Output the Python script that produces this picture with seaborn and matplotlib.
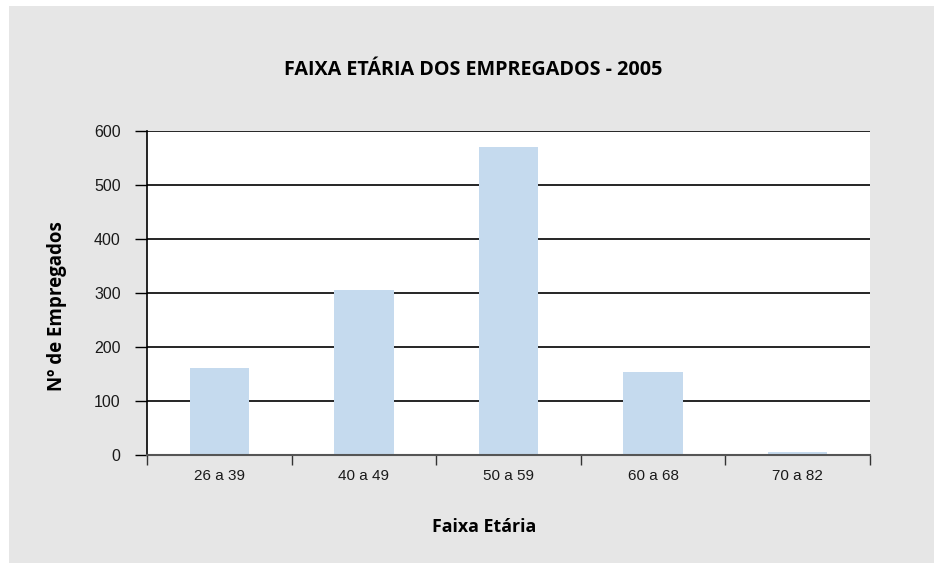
"""
Age range of employees - 2005, bar chart.
"""

import matplotlib
matplotlib.use("Agg")
import matplotlib.pyplot as plt
import numpy as np
import pandas as pd
import seaborn as sns
from matplotlib.patches import Rectangle

# ── Data ──
faixas = ["26 a 39", "40 a 49", "50 a 59", "60 a 68", "70 a 82"]
empregados = [161, 305, 571, 154, 5]
y_ticks = [0, 100, 200, 300, 400, 500, 600]

df = pd.DataFrame({"Faixa": faixas, "Empregados": empregados})

sns.set_theme(style="white")
plt.rcParams["font.family"] = ["Liberation Sans", "DejaVu Sans"]

fig = plt.figure(figsize=(9.34, 5.63), dpi=100)
fig.patch.set_facecolor("white")
# grey panel behind the chart
fig.patches.append(Rectangle((9 / 934, 0), 1 - 9 / 934, 1 - 6 / 563,
                             transform=fig.transFigure, facecolor="#e6e6e6",
                             edgecolor="none", zorder=-10))

ax = fig.add_axes([147 / 934, 108 / 563, 723 / 934, 324 / 563])
ax.set_facecolor("white")

sns.barplot(data=df, x="Faixa", y="Empregados", color="#c5daee",
            width=0.41, saturation=1, linewidth=0, ax=ax, zorder=3)

ax.set_ylim(0, 600)
ax.set_xlim(-0.5, len(faixas) - 0.5)
ax.set_yticks(y_ticks)
ax.yaxis.grid(True, color="black", linewidth=1.2, zorder=1)
ax.set_axisbelow(True)

# category boundary ticks on x
ax.set_xticks(np.arange(-0.5, len(faixas) + 0.5, 1))
ax.set_xticklabels([])
ax.set_xticks(np.arange(len(faixas)), minor=True)
ax.set_xticklabels(faixas, minor=True)
ax.tick_params(axis="x", which="major", length=7, width=1, color="#333333",
               direction="out", bottom=True)
ax.tick_params(axis="x", which="minor", length=0, pad=10, labelsize=11,
               labelcolor="#1a1a1a")
ax.tick_params(axis="y", length=9, width=1, color="black", direction="out",
               left=True, pad=10, labelsize=11.5, labelcolor="#1a1a1a")

for s in ["top", "right"]:
    ax.spines[s].set_visible(False)
ax.spines["left"].set_color("black")
ax.spines["left"].set_linewidth(1.2)
ax.spines["bottom"].set_color("#555555")
ax.spines["bottom"].set_linewidth(1.5)
ax.spines["bottom"].set_zorder(4)

ax.set_xlabel("")
ax.set_ylabel("")
bold = dict(fontweight="bold", color="black", family=["Open Sans", "DejaVu Sans"])
fig.text(484 / 934, 1 - 527 / 563, "Faixa Etária", ha="center", va="center",
         fontsize=12.8, **bold)
fig.text(57 / 934, 1 - 306 / 563, "Nº de Empregados", ha="center", va="center",
         rotation=90, fontsize=13.5, **bold)
fig.text(473 / 934, 1 - 70 / 563, "FAIXA ETÁRIA DOS EMPREGADOS - 2005",
         ha="center", va="center", fontsize=14.2, **bold)

fig.savefig("out.png", dpi=100)
